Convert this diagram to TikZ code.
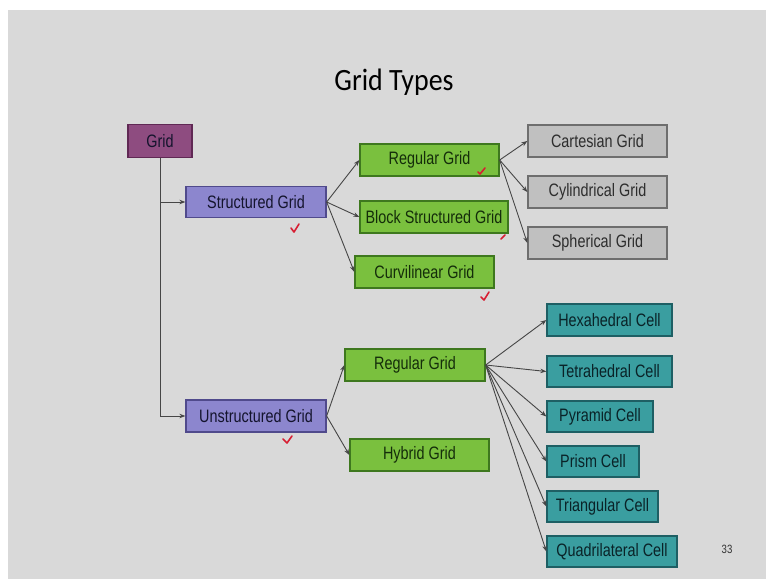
\documentclass[tikz,border=0pt]{standalone}
\usepackage{fontspec}
\usetikzlibrary{arrows.meta}
\newfontfamily\titlefont[FakeStretch=0.9]{Carlito}
\newfontfamily\boxfont[FakeStretch=0.8]{Liberation Sans}
\definecolor{slidebg}{RGB}{217,217,217}
\definecolor{rootfill}{RGB}{142,76,128}
\definecolor{rootline}{RGB}{96,40,84}
\definecolor{lavfill}{RGB}{140,134,206}
\definecolor{lavline}{RGB}{80,74,140}
\definecolor{grnfill}{RGB}{122,192,62}
\definecolor{grnline}{RGB}{62,120,30}
\definecolor{gryfill}{RGB}{192,192,192}
\definecolor{gryline}{RGB}{110,110,110}
\definecolor{tealfill}{RGB}{58,158,160}
\definecolor{tealline}{RGB}{30,95,100}
\definecolor{txtdark}{RGB}{20,20,45}
\definecolor{txtgreen}{RGB}{20,45,10}
\definecolor{txtteal}{RGB}{10,35,40}
\definecolor{txtgray}{RGB}{45,45,45}
\definecolor{linecol}{RGB}{70,70,70}
\definecolor{tickred}{RGB}{215,30,50}
\tikzset{
  box/.style={draw, line width=1.3pt, inner sep=0pt, font=\boxfont\fontsize{18}{20}\selectfont, text=txtdark},
  rootbox/.style={box, fill=rootfill, draw=rootline},
  lavbox/.style={box, fill=lavfill, draw=lavline},
  grnbox/.style={box, fill=grnfill, draw=grnline, text=txtgreen},
  grybox/.style={box, fill=gryfill, draw=gryline, text=txtgray},
  tealbox/.style={box, fill=tealfill, draw=tealline, text=txtteal},
  conn/.style={draw=linecol, line width=0.9pt, -{Stealth[length=6pt,width=4.5pt]}},
  tick/.style={draw=tickred, line width=1.6pt, line cap=round, line join=round}
}
\begin{document}
\begin{tikzpicture}[x=1pt,y=-1pt]
\useasboundingbox (0,0) rectangle (766,579);
\fill[white] (0,0) rectangle (766,579);
\fill[slidebg] (8,10) rectangle (766,579);

\node[font=\titlefont\fontsize{31}{34}\selectfont, text=black] (title) at (394,82) {Grid Types};

\node[rootbox, minimum width=64pt, minimum height=33pt] (grid) at (160,141) {Grid};
\node[lavbox, minimum width=140pt, minimum height=31pt] (sg) at (256,202) {Structured Grid};
\node[lavbox, minimum width=140pt, minimum height=32pt] (ug) at (256,416) {Unstructured Grid};

\node[grnbox, minimum width=139pt, minimum height=32pt] (rg1) at (429.5,160) {Regular Grid};
\node[grnbox, minimum width=148pt, minimum height=32pt] (bsg) at (434,217) {Block Structured Grid};
\node[grnbox, minimum width=139pt, minimum height=32pt] (cg) at (424.5,272) {Curvilinear Grid};

\node[grybox, minimum width=139pt, minimum height=32pt] (cart) at (597.5,141) {Cartesian Grid};
\node[grybox, minimum width=139pt, minimum height=32pt] (cyl) at (597.5,192) {Cylindrical Grid};
\node[grybox, minimum width=139pt, minimum height=32pt] (sph) at (597.5,243) {Spherical Grid};

\node[grnbox, minimum width=140pt, minimum height=32pt] (rg2) at (415,365) {Regular Grid};
\node[grnbox, minimum width=139pt, minimum height=32pt] (hyb) at (419.5,455) {Hybrid Grid};

\node[tealbox, minimum width=125pt, minimum height=32pt] (hex) at (609.5,320) {Hexahedral Cell};
\node[tealbox, minimum width=125pt, minimum height=31pt] (tet) at (609.5,371.5) {Tetrahedral Cell};
\node[tealbox, minimum width=106pt, minimum height=31pt] (pyr) at (600,416.5) {Pyramid Cell};
\node[tealbox, minimum width=92pt, minimum height=31pt] (pri) at (593,461.5) {Prism Cell};
\node[tealbox, minimum width=111pt, minimum height=31pt] (tri) at (602.5,506.5) {Triangular Cell};
\node[tealbox, minimum width=130pt, minimum height=31pt] (quad) at (612,551.5) {Quadrilateral Cell};

\node[font=\boxfont\fontsize{12}{14}\selectfont, text=black!80] (pg) at (727,549) {33};

% connectors
\draw[conn] (grid.south) |- (sg.west);
\draw[conn] (grid.south) |- (ug.west);
\draw[conn] (sg.east) -- (rg1.west);
\draw[conn] (sg.east) -- (bsg.west);
\draw[conn] (sg.east) -- (cg.west);
\draw[conn] (rg1.east) -- (cart.west);
\draw[conn] (rg1.east) -- (cyl.west);
\draw[conn] (rg1.east) -- (sph.west);
\draw[conn] (ug.east) -- (rg2.west);
\draw[conn] (ug.east) -- (hyb.west);
\foreach \t in {hex,tet,pyr,pri,tri,quad}
  \draw[conn] (rg2.east) -- (\t.west);

% red tick marks
\draw[tick] (291,228) -- (294,232) -- (299,224);
\draw[tick] (478,172) -- (480,174) -- (485,168);
\draw[tick] (501,239) -- (505,235);
\draw[tick] (481,297) -- (484,300) -- (489,292);
\draw[tick] (283,439) -- (287,443) -- (292,436);
\end{tikzpicture}
\end{document}
